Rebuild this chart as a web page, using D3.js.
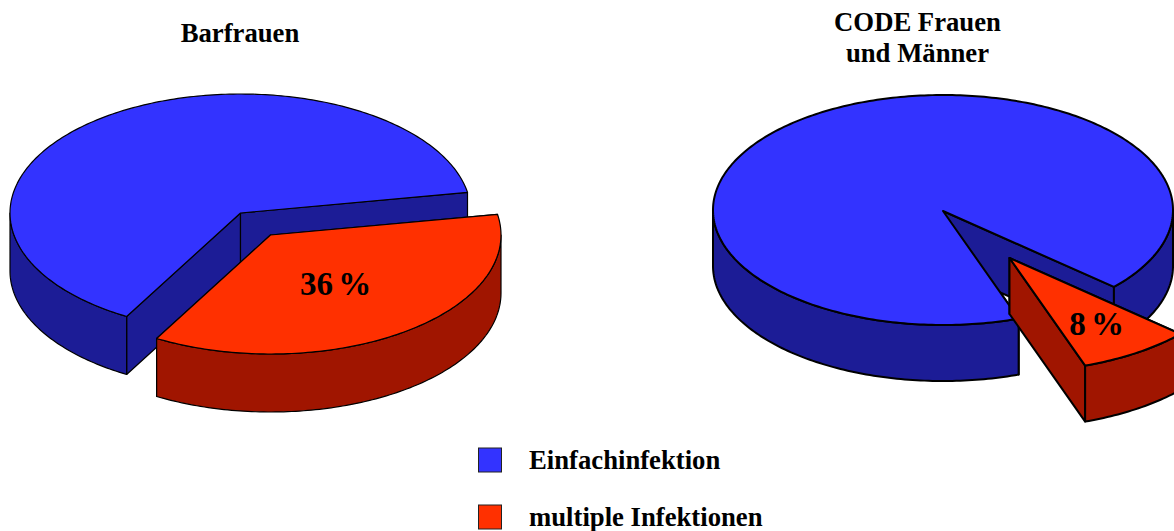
<!DOCTYPE html>
<html>
<head>
<meta charset="utf-8">
<script src="https://cdn.jsdelivr.net/npm/d3@7/dist/d3.min.js"></script>
<style>
html, body { margin: 0; padding: 0; background: #fff; overflow: hidden; }
svg { display: block; }
text { font-family: "Liberation Serif", serif; font-weight: bold; fill: #000; }
</style>
</head>
<body>
<svg id="chart" width="1174" height="531"></svg>
<script>
// Shares of infection types per group
const groups = ["Barfrauen", "CODE Frauen und Männer"];
const categories = ["multiple Infektionen", "Einfachinfektion"];
const barfrauenShares = [36, 64];
const codeShares = [8, 92];

const colours = {
  "Einfachinfektion": { top: "#3333ff", side: "#1c1c96" },
  "multiple Infektionen": { top: "#ff3000", side: "#a01500" }
};

const svg = d3.select("#chart");
const deg = Math.PI / 180;
const lineGen = d3.line();

// One exploded 3-D pie: tilted ellipse plus a vertical extrusion
function drawPie(shares, o) {
  const slices = d3.pie().sort(null)
    .startAngle(o.start * deg)
    .endAngle(o.start * deg + 2 * Math.PI)(shares)
    .map((s, i) => ({ ...s, name: categories[i] }));

  const sx = d3.scaleLinear().domain([-1, 1]).range([o.cx - o.rx, o.cx + o.rx]);
  const sy = d3.scaleLinear().domain([-1, 1]).range([o.cy - o.ry, o.cy + o.ry]);
  const g = svg.append("g");

  const rimPoint = (a, dx, dy) => [sx(Math.sin(a)) + dx, sy(-Math.cos(a)) + dy];
  const arcPoints = (a0, a1, dx, dy) => {
    const n = Math.max(2, Math.ceil((a1 - a0) / deg));
    return d3.range(n + 1).map(i => rimPoint(a0 + (a1 - a0) * i / n, dx, dy));
  };

  // The burst slice goes last so it overlaps the body of the pie
  const order = [slices[1], slices[0]];
  order.forEach(s => {
    const off = s.name === "multiple Infektionen" ? o.offset : [0, 0];
    const c = colours[s.name];
    const apex = [sx(0) + off[0], sy(0) + off[1] + (o.apexShift || 0)];
    const layer = g.append("g").attr("stroke", "#000").attr("stroke-width", o.strokeWidth).attr("stroke-linejoin", "round");

    // Cut walls
    [s.startAngle, s.endAngle].forEach(a => {
      const p = rimPoint(a, off[0], off[1]);
      layer.append("path")
        .attr("d", lineGen([apex, p, [p[0], p[1] + o.depth], [apex[0], apex[1] + o.depth]]) + "Z")
        .attr("fill", c.side);
    });

    // Outer rim, only the part that faces the viewer
    const spans = [[90, 270], [450, 630]].map(r => [
      Math.max(s.startAngle, r[0] * deg), Math.min(s.endAngle, r[1] * deg)
    ]).filter(r => r[1] > r[0]);
    spans.forEach(([a0, a1]) => {
      const upper = arcPoints(a0, a1, off[0], off[1]);
      const lower = arcPoints(a0, a1, off[0], off[1] + o.depth).reverse();
      layer.append("path")
        .attr("d", lineGen(upper.concat(lower)) + "Z")
        .attr("fill", c.side);
    });

    // Top face
    layer.append("path")
      .attr("d", lineGen([apex].concat(arcPoints(s.startAngle, s.endAngle, off[0], off[1]))) + "Z")
      .attr("fill", c.top);
  });

  g.append("text")
    .attr("x", o.labelX).attr("y", o.labelY)
    .attr("text-anchor", "middle")
    .attr("font-size", o.labelSize)
    .attr("word-spacing", -3)
    .text(shares[0] + " %");
}

drawPie(barfrauenShares, {
  cx: 240.5, cy: 213, rx: 230.5, ry: 119, depth: 58, start: 80, strokeWidth: 1.2,
  offset: [30, 22], labelX: 335.5, labelY: 295, labelSize: 33
});
drawPie(codeShares, {
  cx: 943, cy: 210, rx: 230, ry: 115, depth: 56, start: 132, apexShift: 1, strokeWidth: 2,
  offset: [66.5, 47], labelX: 1096.5, labelY: 335, labelSize: 33
});

// Pie headings
const headings = [
  { x: 240, y: 42, t: "Barfrauen" },
  { x: 917.5, y: 31, t: "CODE Frauen" },
  { x: 917.5, y: 62, t: "und Männer" }
];
svg.selectAll("text.heading").data(headings).join("text")
  .attr("class", "heading")
  .attr("x", d => d.x).attr("y", d => d.y)
  .attr("text-anchor", "middle")
  .attr("font-size", 26.7)
  .text(d => d.t);

// Legend
const legendY = d3.scalePoint().domain(["Einfachinfektion", "multiple Infektionen"]).range([460, 517]);
const legend = svg.selectAll("g.legend").data(legendY.domain()).join("g")
  .attr("class", "legend")
  .attr("transform", d => `translate(0,${legendY(d)})`);
legend.append("rect")
  .attr("x", 478.5).attr("y", -12).attr("width", 23).attr("height", 24)
  .attr("fill", d => colours[d].top)
  .attr("stroke", "#222").attr("stroke-width", 1);
legend.append("text")
  .attr("x", 529).attr("y", 8.5)
  .attr("font-size", 26.7)
  .text(d => d);
</script>
</body>
</html>
